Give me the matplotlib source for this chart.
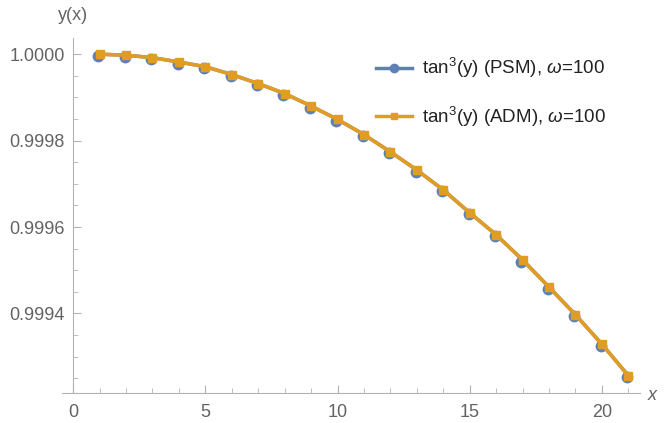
import numpy as np
import matplotlib.pyplot as plt
import matplotlib.ticker as ticker
from matplotlib.transforms import offset_copy

plt.rcParams['font.family'] = ['Liberation Sans', 'DejaVu Sans']
plt.rcParams['mathtext.fontset'] = 'custom'
plt.rcParams['mathtext.it'] = 'Liberation Sans:italic'
plt.rcParams['mathtext.rm'] = 'Liberation Sans'

x = np.arange(1, 22)
y_psm = [1.0, 0.9999977, 0.999992, 0.999982, 0.999971, 0.999953, 0.999932,
         0.999909, 0.999880, 0.999849, 0.999814, 0.999774, 0.999732, 0.999686,
         0.999633, 0.999582, 0.999524, 0.999461, 0.999397, 0.999329, 0.999256]
y_adm = list(y_psm)

BLUE = '#5E81B5'
ORANGE = '#E19C24'
AX_C = '#b3b3b3'
TXT_C = '#636363'

fig = plt.figure(figsize=(6.65, 4.23), dpi=100)
ax = fig.add_axes([62/665, 1 - 393/423, (640 - 62)/665, (393 - 38)/423])

# circles render a touch below-left of the squares in the original
shifted = offset_copy(ax.transData, fig=fig, x=-1.2, y=-1.6, units='dots')
psm_line, = ax.plot(x, y_psm, '-', color=BLUE, lw=2.5, label=r'tan$^3$(y) (PSM), $\omega$=100', zorder=3)
ax.plot(x, y_psm, 'o', color=BLUE, ms=7.5, zorder=3, transform=shifted)
ax.plot(x, y_adm, '-s', color=ORANGE, lw=2.6, ms=6, label=r'tan$^3$(y) (ADM), $\omega$=100', zorder=4)

ax.set_xlim(-0.42, 21.44)
ax.set_ylim(0.999216, 1.0000375)

for s in ['top', 'right']:
    ax.spines[s].set_visible(False)
ax.spines['left'].set_position(('data', 0))
ax.spines['left'].set_color(AX_C)
ax.spines['bottom'].set_color(AX_C)

ax.xaxis.set_major_locator(ticker.MultipleLocator(5))
ax.xaxis.set_minor_locator(ticker.MultipleLocator(1))
ax.yaxis.set_major_locator(ticker.MultipleLocator(0.0002))
ax.yaxis.set_minor_locator(ticker.MultipleLocator(0.00005))
ax.yaxis.set_major_formatter(ticker.FormatStrFormatter('%.4f'))
ax.tick_params(which='both', direction='in', color=AX_C, labelcolor=TXT_C, labelsize=13)
ax.tick_params(which='major', length=6, width=0.8)
ax.tick_params(which='minor', length=3.5, width=0.6)
ax.tick_params(axis='x', pad=8)
ax.tick_params(axis='y', pad=6)

fig.text(73/665, 1 - 15/423, 'y(x)', color=TXT_C, fontsize=13, ha='center', va='center')
fig.text(652/665, 1 - 395/423, 'x', color=TXT_C, fontsize=13, ha='center', va='center', style='italic')

leg = ax.legend(loc='upper left', bbox_to_anchor=(376/665, 1 - 56/423), bbox_transform=fig.transFigure,
                frameon=False, fontsize=13.5, labelcolor='#222222', handlelength=1.9, handletextpad=0.55,
                labelspacing=1.3, borderaxespad=0, borderpad=0)
for h, m, mk in zip(leg.legend_handles, [6, 4.5], ['o', 's']):
    h.set_marker(mk)
    h.set_markersize(m)
    h.set_linewidth(2.5)

fig.savefig('out.png', dpi=100)
